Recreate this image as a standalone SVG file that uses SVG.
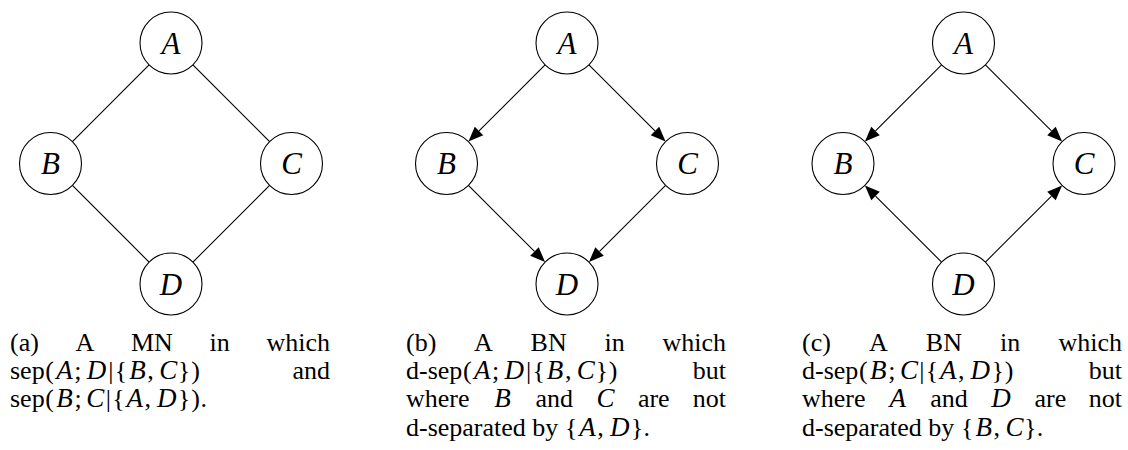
<svg xmlns="http://www.w3.org/2000/svg" width="1128" height="450" viewBox="0 0 1128 450">
<style>
.node{fill:#fff;stroke:#000;stroke-width:1.1}
.lbl{font-family:"Liberation Serif",serif;font-style:italic;font-size:31px;text-anchor:middle;fill:#000}
.edge{stroke:#000;stroke-width:1.1;fill:none}
.arr{marker-end:url(#ah)}
.cap{font-family:"Liberation Serif",serif;font-size:26px;fill:#000}
.m{font-style:italic;font-size:27px}
.end{text-anchor:end}
</style>
<defs>
<marker id="ah" markerUnits="userSpaceOnUse" markerWidth="16" markerHeight="13" refX="0" refY="6" orient="auto" overflow="visible">
<path d="M0,0 L15,6 L0,12 Z" fill="#000"/>
</marker>
</defs>
<rect width="1128" height="450" fill="#fff"/>
<g id="connectors">
<line class="edge" x1="149.08" y1="64.92" x2="72.42" y2="141.58"/>
<line class="edge" x1="192.92" y1="64.92" x2="269.58" y2="141.58"/>
<line class="edge" x1="72.42" y1="185.42" x2="149.08" y2="262.08"/>
<line class="edge" x1="269.58" y1="185.42" x2="192.92" y2="262.08"/>
<line class="edge arr" x1="545.08" y1="64.92" x2="479.03" y2="130.97"/>
<line class="edge arr" x1="588.92" y1="64.92" x2="654.97" y2="130.97"/>
<line class="edge arr" x1="468.42" y1="185.42" x2="534.47" y2="251.47"/>
<line class="edge arr" x1="665.58" y1="185.42" x2="599.53" y2="251.47"/>
<line class="edge arr" x1="941.58" y1="64.92" x2="875.53" y2="130.97"/>
<line class="edge arr" x1="985.42" y1="64.92" x2="1051.47" y2="130.97"/>
<line class="edge arr" x1="941.58" y1="262.08" x2="875.53" y2="196.03"/>
<line class="edge arr" x1="985.42" y1="262.08" x2="1051.47" y2="196.03"/>
</g>
<g id="a-A"><circle class="node" cx="171" cy="43" r="31"/><text class="lbl" x="171" y="53.8">A</text></g>
<g id="a-B"><circle class="node" cx="50.5" cy="163.5" r="31"/><text class="lbl" x="50.5" y="174.3">B</text></g>
<g id="a-C"><circle class="node" cx="291.5" cy="163.5" r="31"/><text class="lbl" x="291.5" y="174.3">C</text></g>
<g id="a-D"><circle class="node" cx="171" cy="284" r="31"/><text class="lbl" x="171" y="294.8">D</text></g>
<g id="b-A"><circle class="node" cx="567" cy="43" r="31"/><text class="lbl" x="567" y="53.8">A</text></g>
<g id="b-B"><circle class="node" cx="446.5" cy="163.5" r="31"/><text class="lbl" x="446.5" y="174.3">B</text></g>
<g id="b-C"><circle class="node" cx="687.5" cy="163.5" r="31"/><text class="lbl" x="687.5" y="174.3">C</text></g>
<g id="b-D"><circle class="node" cx="567" cy="284" r="31"/><text class="lbl" x="567" y="294.8">D</text></g>
<g id="c-A"><circle class="node" cx="963.5" cy="43" r="31"/><text class="lbl" x="963.5" y="53.8">A</text></g>
<g id="c-B"><circle class="node" cx="843" cy="163.5" r="31"/><text class="lbl" x="843" y="174.3">B</text></g>
<g id="c-C"><circle class="node" cx="1084" cy="163.5" r="31"/><text class="lbl" x="1084" y="174.3">C</text></g>
<g id="c-D"><circle class="node" cx="963.5" cy="284" r="31"/><text class="lbl" x="963.5" y="294.8">D</text></g>
<g id="caption-a" class="cap">
<text y="350.7"><tspan x="10">(a)</tspan><tspan x="75.54">A</tspan><tspan x="130.99">MN</tspan><tspan x="209.56">in</tspan></text>
<text class="end" x="330" y="350.7">which</text>
<text y="379"><tspan x="10">sep</tspan><tspan x="45.36">(</tspan><tspan class="m" x="56.27">A</tspan><tspan x="74.27">;</tspan><tspan class="m" x="86.84">D</tspan><tspan x="108.37">|</tspan><tspan x="114.86">{</tspan><tspan class="m" x="129.2">B</tspan><tspan x="147.33">,</tspan><tspan class="m" x="159.2">C</tspan><tspan x="177.75">}</tspan><tspan x="191.19">)</tspan></text>
<text class="end" x="330" y="379">and</text>
<text y="407.3"><tspan x="10">sep</tspan><tspan x="45.36">(</tspan><tspan class="m" x="56.37">B</tspan><tspan x="74.5">;</tspan><tspan class="m" x="86.37">C</tspan><tspan x="105.66">|</tspan><tspan x="112.15">{</tspan><tspan class="m" x="126.39">A</tspan><tspan x="144.39">,</tspan><tspan class="m" x="156.96">D</tspan><tspan x="177.75">}</tspan><tspan x="191.19">)</tspan><tspan x="200.6">.</tspan></text>
</g>
<g id="caption-b" class="cap">
<text y="350.7"><tspan x="406">(b)</tspan><tspan x="474.08">A</tspan><tspan x="530.61">BN</tspan><tspan x="604.48">in</tspan></text>
<text class="end" x="726" y="350.7">which</text>
<text y="379"><tspan x="406">d-sep</tspan><tspan x="463.02">(</tspan><tspan class="m" x="473.93">A</tspan><tspan x="491.93">;</tspan><tspan class="m" x="504.5">D</tspan><tspan x="526.03">|</tspan><tspan x="532.52">{</tspan><tspan class="m" x="546.86">B</tspan><tspan x="564.99">,</tspan><tspan class="m" x="576.86">C</tspan><tspan x="595.41">}</tspan><tspan x="608.85">)</tspan></text>
<text class="end" x="726" y="379">but</text>
<text y="407.3"><tspan x="406">where</tspan><tspan class="m" x="494.25">B</tspan><tspan x="535.51">and</tspan><tspan class="m" x="596.48">C</tspan><tspan x="637.9">are</tspan></text>
<text class="end" x="726" y="407.3">not</text>
<text y="435.7"><tspan x="406">d-separated by</tspan><tspan x="565.09">{</tspan><tspan class="m" x="579.33">A</tspan><tspan x="597.33">,</tspan><tspan class="m" x="609.9">D</tspan><tspan x="630.69">}</tspan><tspan x="643.43">.</tspan></text>
</g>
<g id="caption-c" class="cap">
<text y="350.7"><tspan x="802">(c)</tspan><tspan x="868.98">A</tspan><tspan x="925.87">BN</tspan><tspan x="1000.1">in</tspan></text>
<text class="end" x="1122" y="350.7">which</text>
<text y="379"><tspan x="802">d-sep</tspan><tspan x="859.02">(</tspan><tspan class="m" x="870.03">B</tspan><tspan x="888.16">;</tspan><tspan class="m" x="900.03">C</tspan><tspan x="919.32">|</tspan><tspan x="925.81">{</tspan><tspan class="m" x="940.05">A</tspan><tspan x="958.05">,</tspan><tspan class="m" x="970.62">D</tspan><tspan x="991.41">}</tspan><tspan x="1004.85">)</tspan></text>
<text class="end" x="1122" y="379">but</text>
<text y="407.3"><tspan x="802">where</tspan><tspan class="m" x="889.61">A</tspan><tspan x="930.2">and</tspan><tspan class="m" x="991.33">D</tspan><tspan x="1034.45">are</tspan></text>
<text class="end" x="1122" y="407.3">not</text>
<text y="435.7"><tspan x="802">d-separated by</tspan><tspan x="961.09">{</tspan><tspan class="m" x="975.43">B</tspan><tspan x="993.56">,</tspan><tspan class="m" x="1005.43">C</tspan><tspan x="1023.98">}</tspan><tspan x="1036.72">.</tspan></text>
</g>
</svg>
